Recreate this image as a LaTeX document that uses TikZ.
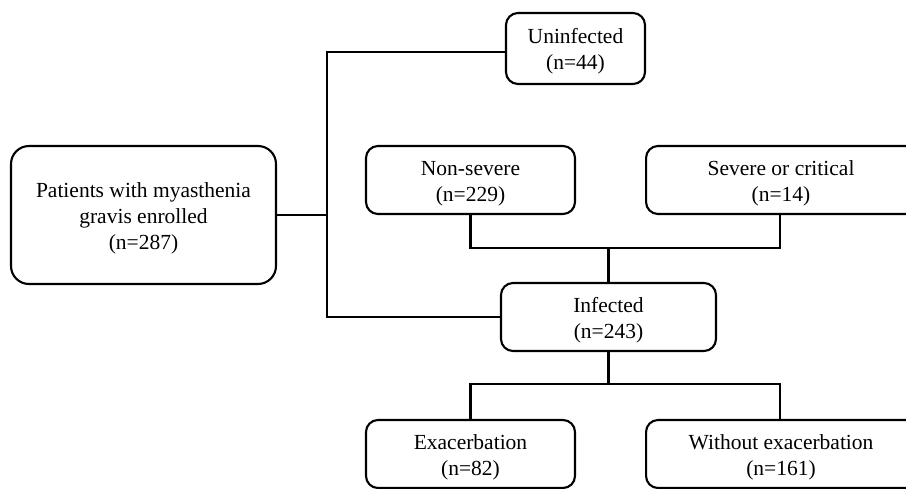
\documentclass[tikz,border=0pt]{standalone}
\usepackage{fontspec}
\setmainfont{Liberation Serif}
\newcommand{\tstrut}{\rule{0pt}{21pt}}
\begin{document}
\begin{tikzpicture}[x=1pt,y=-1pt,
    box/.style={draw, line width=2.1pt, rounded corners=12pt, align=center,
        inner sep=0pt, font=\fontsize{21.5}{26}\selectfont},
    link/.style={line width=2.1pt}]
    % Fix the page size
    \useasboundingbox (0,0) rectangle (906,488);

    % Draw boxes
    \node[box, minimum width=265pt, minimum height=138pt, rounded corners=18pt] (pat) at (143.5,215) {\tstrut Patients with myasthenia\\gravis enrolled\\(n=287)};
    \node[box, minimum width=139pt, minimum height=71pt] (uninf) at (575.5,48.5) {\tstrut Uninfected\\(n=44)};
    \node[box, minimum width=209pt, minimum height=68pt] (nonsev) at (470.5,180) {\tstrut Non-severe\\(n=229)};
    \node[box, minimum height=68pt, anchor=west] (sev) at (645,180) {\parbox{270pt}{\centering\tstrut Severe or critical\\(n=14)}\hspace*{40pt}};
    \node[box, minimum width=215pt, minimum height=68pt] (inf) at (608.5,317) {\tstrut Infected\\(n=243)};
    \node[box, minimum width=209pt, minimum height=68pt] (exa) at (470.5,454) {\tstrut Exacerbation\\(n=82)};
    \node[box, minimum height=68pt, anchor=west] (woex) at (645,454) {\parbox{270pt}{\centering\tstrut Without exacerbation\\(n=161)}\hspace*{40pt}};

    % Branch points
    \coordinate (split) at (327,215);
    \coordinate (top) at (608.5,248);
    \coordinate (bot) at (608.5,384);
    \coordinate (sevin) at (780,214);
    \coordinate (woexin) at (780,420);

    % Draw connectors
    \draw[link] (pat.east) -- (split);
    \draw[link] ([yshift=-3.5pt]uninf.west) -| (split) |- (inf.west);
    \draw[link] (nonsev.south) |- (top) -| (sevin);
    \draw[link] (top) -- (inf.north);
    \draw[link] (inf.south) -- (bot);
    \draw[link] (exa.north) |- (bot) -| (woexin);
\end{tikzpicture}
\end{document}
